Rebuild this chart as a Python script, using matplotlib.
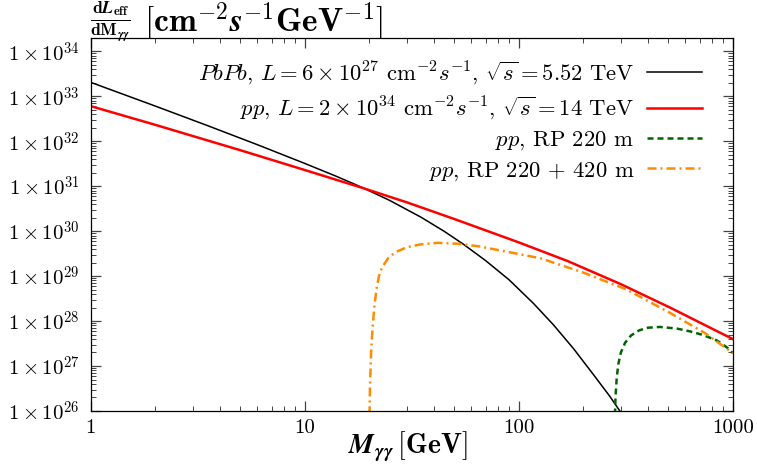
import numpy as np
import matplotlib
matplotlib.use('Agg')
import matplotlib.pyplot as plt
from matplotlib.ticker import FixedLocator, FuncFormatter, NullFormatter

plt.rcParams['font.family'] = 'serif'
plt.rcParams['font.serif'] = ['cmr10']
plt.rcParams['mathtext.fontset'] = 'cm'
plt.rcParams['axes.formatter.use_mathtext'] = True
plt.rcParams['axes.unicode_minus'] = False

# PbPb effective luminosity (black)
m_pbpb = [1, 2, 3.5, 6, 10, 14, 18.5, 25, 35, 45, 55, 70, 90, 117, 145, 180,
          223, 267, 297, 315]
l_pbpb = [2.04e33, 6.07e32, 2.24e32, 8.39e31, 3.21e31, 1.67e31, 9.42e30,
          4.79e30, 2.03e30, 9.79e29, 5.15e29, 2.21e29, 8.30e28, 2.48e28,
          8.3e27, 2.45e27, 6.49e26, 2.08e26, 9.9e25, 6.3e25]

# pp effective luminosity (red)
m_pp = [1, 2, 5, 10, 18.5, 30, 50, 100, 170, 300, 514, 741, 1000]
l_pp = [6.03e32, 2.32e32, 6.31e31, 2.29e31, 9.23e30, 4.37e30, 1.86e30,
        5.62e29, 2.14e29, 6.61e28, 1.95e28, 8.13e27, 3.98e27]

# pp with RP 220 m (green dashed)
m_rp220 = [280, 283, 287, 292, 300, 314, 335, 365, 400, 457, 548, 631, 726,
           843, 938, 1000]
l_rp220 = [3e25, 2.0e26, 5.6e26, 1.12e27, 2.0e27, 3.3e27, 4.8e27, 6.2e27,
           7.1e27, 7.4e27, 6.8e27, 5.9e27, 4.9e27, 3.7e27, 2.6e27, 1.95e27]

# pp with RP 220 + 420 m (orange dash-dot)
m_rp420 = [20.0, 20.15, 20.4, 20.7, 21.1, 21.6, 22.2, 23.0, 24.5, 26.5, 30,
           35, 42, 52, 65, 89, 126, 200, 320, 514, 741, 1000]
l_rp420 = [3e25, 3.2e26, 2.0e27, 6.3e27, 2.0e28, 5.0e28, 1.0e29, 1.58e29,
           2.5e29, 3.4e29, 4.4e29, 5.1e29, 5.5e29, 5.25e29, 4.6e29, 3.45e29,
           2.5e29, 1.2e29, 5.0e28, 1.48e28, 5.4e27, 1.95e27]

labels = [r'$PbPb$, $L = 6\times10^{27}$ cm$^{-2}s^{-1}$, $\sqrt{s} = 5.52$ TeV',
          r'$pp$, $L = 2\times10^{34}$ cm$^{-2}s^{-1}$, $\sqrt{s} = 14$ TeV',
          r'$pp$, RP 220 m',
          r'$pp$, RP 220 + 420 m']

x_major = [1, 10, 100, 1000]
y_decades = list(range(26, 35))

fig = plt.figure(figsize=(7.57, 4.67), dpi=100)
ax = fig.add_axes([0.120, 0.120, 0.848, 0.799])

ax.plot(m_pbpb, l_pbpb, color='black', lw=1.1, label=labels[0])
ax.plot(m_pp, l_pp, color='#ff0000', lw=1.8, label=labels[1])
ax.plot(m_rp220, l_rp220, color='#006400', lw=1.8, dashes=(2.4, 1.6), label=labels[2])
ax.plot(m_rp420, l_rp420, color='#ff8c00', lw=1.8, dashes=(3.6, 1.6, 0.8, 1.6), label=labels[3])

ax.set_xscale('log')
ax.set_yscale('log')
ax.set_xlim(1, 1000)
ax.set_ylim(1e26, 2e34)

# log ticks: majors at decades, minors at 2..9 of each decade
x_minor = [k * 10.0**d for d in range(0, 3) for k in range(2, 10)]
y_minor = [k * 10.0**d for d in range(26, 35) for k in range(2, 10)]
ax.xaxis.set_major_locator(FixedLocator(x_major))
ax.xaxis.set_major_formatter(FuncFormatter(lambda v, p: '%d' % round(v)))
ax.yaxis.set_major_locator(FixedLocator([10.0**k for k in y_decades]))
ax.yaxis.set_major_formatter(FuncFormatter(lambda v, p: r'$1\times10^{%d}$' % round(np.log10(v))))
ax.xaxis.set_minor_locator(FixedLocator(x_minor))
ax.yaxis.set_minor_locator(FixedLocator(y_minor))
ax.xaxis.set_minor_formatter(NullFormatter())
ax.yaxis.set_minor_formatter(NullFormatter())

ax.tick_params(which='both', direction='in', top=True, right=True, labelsize=15, color='#444444')
ax.tick_params(which='major', length=7, width=0.9)
ax.tick_params(which='minor', length=3.5, width=0.7)
ax.tick_params(axis='x', pad=6)
ax.tick_params(axis='y', pad=8)
for s in ax.spines.values():
    s.set_linewidth(0.9)

fig.text(0.539, 0.043, r'$\boldsymbol{M}_{\boldsymbol{\gamma\gamma}}\,[\mathbf{GeV}]$',
         fontsize=20, ha='center', va='center')
fig.text(0.119, 0.953,
         r'$\frac{\mathbf{d}\boldsymbol{L}_{\mathbf{eff}}}{\mathbf{dM}_{\boldsymbol{\gamma\gamma}}}$',
         fontsize=18, ha='left', va='center')
fig.text(0.190, 0.953,
         r'$[\mathbf{cm}^{\mathbf{-2}}\boldsymbol{s}^{\mathbf{-1}}\mathbf{GeV}^{\mathbf{-1}}]$',
         fontsize=24, ha='left', va='center')

ax.legend(loc='upper right', frameon=False, markerfirst=False, fontsize=16.3,
          handlelength=2.45, handletextpad=0.55, labelspacing=0.33,
          borderaxespad=0.3, bbox_to_anchor=(0.977, 0.985))

fig.savefig('out.png', dpi=100)
